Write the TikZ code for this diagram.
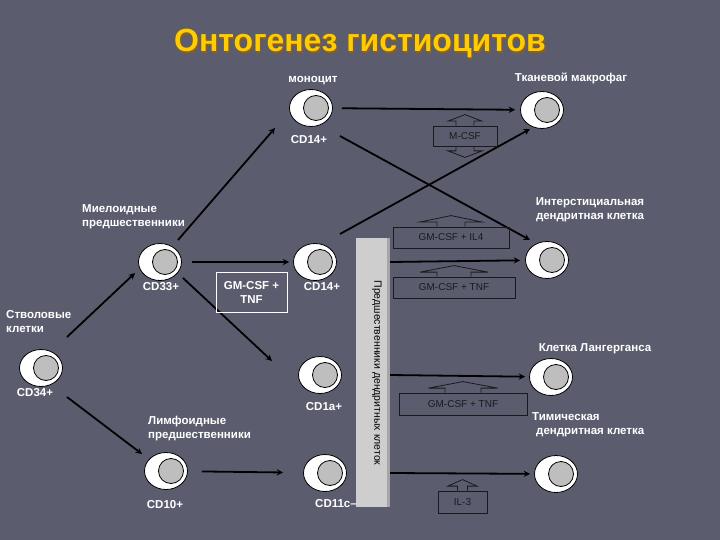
\documentclass[tikz,border=0pt]{standalone}
\usepackage{fontspec}
\setmainfont{Liberation Sans}
\usepackage{tikz}
\usetikzlibrary{arrows,shapes,positioning}
\definecolor{hsbg}{RGB}{91,93,110}
\definecolor{hsyellow}{RGB}{255,204,0}
\definecolor{hsshadow}{RGB}{150,95,10}
\definecolor{hsnucleus}{RGB}{190,190,190}
\definecolor{hsbar}{RGB}{206,206,206}
\definecolor{hsbaredge}{RGB}{165,165,165}
\definecolor{hsfactor}{RGB}{25,25,30}
\tikzstyle{pathway} = [line width=1.8pt,-stealth,black]
\tikzstyle{cell} = [ellipse, draw=black, line width=0.8pt, fill=white, minimum width=43pt, minimum height=37pt, inner sep=0pt,
  path picture={\draw[line width=0.8pt, fill=hsnucleus] ([xshift=5pt]path picture bounding box.center) circle (12.5pt);}]
\tikzstyle{lbl} = [text=white, font=\bfseries\fontsize{11.5}{14}\selectfont, inner sep=0pt]
\tikzstyle{factor} = [draw=hsfactor, line width=0.8pt, text=hsfactor, font=\fontsize{10}{12}\selectfont, inner sep=0pt]
\tikzstyle{tab} = [draw=hsfactor, line width=0.8pt]
% arrow tab on top / bottom of a factor box: node, half shaft, half head
\newcommand{\uptab}[3]{\draw[tab] ([xshift=-#2pt]#1.north) |- ([xshift=-#3pt,yshift=4.5pt]#1.north) -- ([yshift=11pt]#1.north) -- ([xshift=#3pt,yshift=4.5pt]#1.north) -| ([xshift=#2pt]#1.north);}
\newcommand{\downtab}[3]{\draw[tab] ([xshift=-#2pt]#1.south) |- ([xshift=-#3pt,yshift=-4.5pt]#1.south) -- ([yshift=-11pt]#1.south) -- ([xshift=#3pt,yshift=-4.5pt]#1.south) -| ([xshift=#2pt]#1.south);}
\begin{document}
\begin{tikzpicture}[x=1pt,y=-1pt]
% Background
\fill[hsbg] (0,0) rectangle (720,540);
\useasboundingbox (0,0) rectangle (720,540);

% Title
\node[font=\bfseries\fontsize{32}{36}\selectfont, text=hsshadow] (titleshadow) at (361.2,45.2) {Онтогенез гистиоцитов};
\node[font=\bfseries\fontsize{32}{36}\selectfont, text=hsyellow] (title) at (360,44) {Онтогенез гистиоцитов};

% Precursor bar
\node[fill=hsbar, minimum width=34pt, minimum height=269pt, inner sep=0pt] (bar) at (373,372.5) {};
\fill[hsbaredge] ([xshift=-3pt]bar.north east) rectangle (bar.south east);
\node[rotate=-90, font=\fontsize{10.5}{12}\selectfont] (bartext) at (377,373) {Предшественники дендритных клеток};

% Cells
\node[cell] (mono) at (311,108) {};
\node[cell] (macro) at (542,110) {};
\node[cell] (idc) at (547,260) {};
\node[cell] (cd33) at (160,262) {};
\node[cell] (cd14) at (315,262) {};
\node[cell] (lc) at (551,377) {};
\node[cell] (cd34) at (41,368) {};
\node[cell] (cd1a) at (320,375) {};
\node[cell] (cd10) at (166,471) {};
\node[cell] (cd11c) at (325,473) {};
\node[cell] (tdc) at (556,474) {};

% Labels
\node[lbl] (monolbl) at (313,81) {моноцит};
\node[lbl] (cd14top) at (309,140) {CD14+};
\node[lbl] (macrolbl) at (571,78) {Тканевой макрофаг};
\node[lbl, anchor=west, align=left] (myelo) at (82,217) {Миелоидные\\предшественники};
\node[lbl, align=center] (idclbl) at (590,210) {Интерстициальная\\дендритная клетка};
\node[lbl] (cd33lbl) at (161,287) {CD33+};
\node[lbl] (cd14lbl) at (322,287) {CD14+};
\node[lbl, anchor=west, align=left] (stem) at (6,322) {Стволовые\\клетки};
\node[lbl] (cd34lbl) at (35,393) {CD34+};
\node[lbl] (lclbl) at (595,349) {Клетка Лангерганса};
\node[lbl, anchor=west, align=left] (tdclbl) at (532,425) {Тимическая\\\hspace{4pt}дендритная клетка};
\node[lbl, anchor=west, align=left] (lympho) at (148,429) {Лимфоидные\\предшественники};
\node[lbl] (cd1albl) at (324,407) {CD1a+};
\node[lbl] (cd10lbl) at (165,505) {CD10+};
\node[lbl] (cd11clbl) at (336,504) {CD11c–};

% Pathways
\draw[pathway, shorten <=9pt, shorten >=5pt] (mono) -- (macro);
\draw[pathway] ([shift={(29,28)}]mono.center) -- ([shift={(-17,-20)}]idc.center);
\draw[pathway] ([shift={(18,-22)}]cd33.center) -- ([shift={(-36,20)}]mono.center);
\draw[pathway] ([shift={(25,-28)}]cd14.center) -- ([shift={(-12,19)}]macro.center);
\draw[pathway] ([shift={(26,-31)}]cd34.center) -- ([shift={(-25,11)}]cd33.center);
\draw[pathway] ([shift={(26,29)}]cd34.center) -- ([shift={(-24,-17)}]cd10.center);
\draw[pathway, shorten <=10pt, shorten >=4pt] (cd33) -- (cd14);
\draw[pathway] ([shift={(23,16)}]cd33.center) -- ([shift={(-48,-14)}]cd1a.center);
\draw[pathway, shorten <=14pt, shorten >=20pt] (cd10) -- (cd11c);
\draw[pathway, shorten >=5pt] (cd14 -| bar.east) -- (idc);
\draw[pathway, shorten >=4pt] (cd1a -| bar.east) -- (lc);
\draw[pathway, shorten >=4pt] (cd11c -| bar.east) -- (tdc);

% Factors
\node[draw=white, line width=0.8pt, text=white, font=\bfseries\fontsize{11.5}{14}\selectfont, align=center, minimum width=71pt, minimum height=40pt, inner sep=0pt] (tnfw) at (251.5,292) {GM-CSF +\\TNF};
\node[factor, minimum width=64pt, minimum height=20pt] (mcsf) at (465,136) {M-CSF};
\uptab{mcsf}{9}{17}
\downtab{mcsf}{9}{17}
\node[factor, minimum width=116pt, minimum height=21pt] (il4) at (451,237.5) {GM-CSF + IL4};
\uptab{il4}{14}{31.5}
\node[factor, minimum width=122pt, minimum height=21pt] (tnfa) at (454,287.5) {GM-CSF + TNF};
\uptab{tnfa}{17}{34}
\node[factor, minimum width=128pt, minimum height=22pt] (tnfb) at (463,404) {GM-CSF + TNF};
\uptab{tnfb}{18}{34.5}
\node[factor, minimum width=49pt, minimum height=22pt] (il3) at (462.5,502) {IL-3};
\uptab{il3}{5}{14.5}
\end{tikzpicture}
\end{document}
